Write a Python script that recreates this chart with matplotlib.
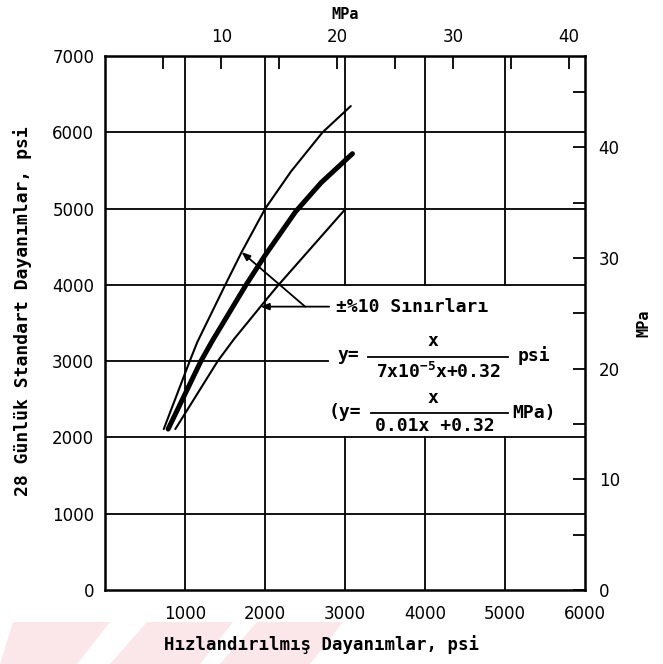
import numpy as np
import matplotlib
matplotlib.use("Agg")
import matplotlib.pyplot as plt
from matplotlib.patches import Polygon

plt.rcParams["mathtext.fontset"] = "custom"
plt.rcParams["mathtext.rm"] = "DejaVu Sans Mono:bold"
plt.rcParams["mathtext.default"] = "rm"

# accelerated vs. 28-day standard strength, psi
mean_x = [785, 1195, 1340, 1760, 2000, 2380, 2700, 3092]
mean_y = [2110, 3000, 3270, 4000, 4390, 4960, 5340, 5720]
upper_x = [730, 1055, 1150, 1500, 1705, 2000, 2325, 2718, 3071]
upper_y = [2110, 3000, 3250, 4000, 4430, 5000, 5490, 6000, 6344]
lower_x = [875, 1405, 1610, 2000, 2146, 3000]
lower_y = [2110, 3000, 3290, 3790, 3975, 4990]

x_ticks = [1000, 2000, 3000, 4000, 5000, 6000]
y_ticks = [0, 1000, 2000, 3000, 4000, 5000, 6000, 7000]
mpa_minor = [0, 5, 10, 15, 20, 25, 30, 35, 40, 45]
mpa_labels = [0, 10, 20, 30, 40]
PSI_TO_MPA = 0.006895

mono = "DejaVu Sans Mono"

fig = plt.figure(figsize=(6.63, 6.64), dpi=100)
ax = fig.add_axes([0.159, 0.1114, 0.723, 0.8042])
ax.set_xlim(0, 6000)
ax.set_ylim(0, 7000)

# grid, left open where the legend text sits
box_x0, box_y0, box_y1 = 2790, 2000, 4000
glw = 1.3
for gx in x_ticks[:-1]:
    if gx > box_x0:
        ax.plot([gx, gx], [0, box_y0], color="black", lw=glw, zorder=1)
        ax.plot([gx, gx], [box_y1, 7000], color="black", lw=glw, zorder=1)
    else:
        ax.plot([gx, gx], [0, 7000], color="black", lw=glw, zorder=1)
for gy in y_ticks[1:-1]:
    if box_y0 < gy < box_y1:
        ax.plot([0, box_x0], [gy, gy], color="black", lw=glw, zorder=1)
    else:
        ax.plot([0, 6000], [gy, gy], color="black", lw=glw, zorder=1)

# curves
ax.plot(upper_x, upper_y, color="black", lw=1.5, solid_capstyle="round", zorder=3)
ax.plot(lower_x, lower_y, color="black", lw=1.5, solid_capstyle="round", zorder=3)
ax.plot(mean_x, mean_y, color="black", lw=3.6, solid_capstyle="round", zorder=3)

# leader lines to the +/-10 % limits
lead_y = 3715
lower_hit = (np.interp(lead_y, lower_y, lower_x), lead_y)
upper_hit = (1705, np.interp(1705, upper_x, upper_y))
arrow = dict(arrowstyle="-|>,head_length=0.5,head_width=0.2", color="black",
             lw=1.3, shrinkA=0, shrinkB=0)
ax.annotate("", xy=lower_hit, xytext=(2800, lead_y), arrowprops=arrow, zorder=4)
ax.annotate("", xy=upper_hit, xytext=(2500, lead_y), arrowprops=arrow, zorder=4)

tfont = dict(family=mono, weight="bold", fontsize=13, color="black")
ax.text(2890, lead_y, "±%10 Sınırları", ha="left", va="center", **tfont)

# formula in psi
ax.text(2900, 3079, "y=", ha="left", va="center", **tfont)
ax.text(4100, 3150, "x", ha="center", va="bottom", **tfont)
ax.plot([3290, 5035], [3060, 3060], color="black", lw=1.3, zorder=4)
ax.text(4170, 2990, "7x10$^{-5}$x+0.32", ha="center", va="top", **tfont)
ax.text(5160, 3079, "psi", ha="left", va="center", **tfont)

# formula in MPa
ax.text(2800, 2330, "(y=", ha="left", va="center", **tfont)
ax.text(4100, 2400, "x", ha="center", va="bottom", **tfont)
ax.plot([3330, 5035], [2325, 2325], color="black", lw=1.3, zorder=4)
ax.text(4120, 2270, "0.01x +0.32", ha="center", va="top", **tfont)
ax.text(5090, 2325, "MPa)", ha="left", va="center", **tfont)

for s in ax.spines.values():
    s.set_linewidth(1.8)

ax.set_xticks(x_ticks)
ax.set_yticks(y_ticks)
ax.tick_params(length=0, labelsize=12, pad=8)
ax.tick_params(axis="x", pad=11)

ax.set_xlabel("Hızlandırılmış Dayanımlar, psi", family=mono, weight="bold", fontsize=12.5)
ax.xaxis.set_label_coords(0.45, -0.084)
ax.set_ylabel("28 Günlük Standart Dayanımlar, psi", family=mono, weight="bold", fontsize=13)
ax.yaxis.set_label_coords(-0.153, 0.522)

# MPa scales
top = ax.secondary_xaxis("top", functions=(lambda v: v * PSI_TO_MPA, lambda v: v / PSI_TO_MPA))
top.set_xticks(mpa_minor[1:-1])
top.set_xticklabels([str(v) if v in mpa_labels else "" for v in mpa_minor[1:-1]])
top.tick_params(direction="in", length=9, width=1.3, labelsize=12, pad=7)
top.set_xlabel("MPa", family=mono, weight="bold", fontsize=11, labelpad=7)

right = ax.secondary_yaxis("right", functions=(lambda v: v * PSI_TO_MPA, lambda v: v / PSI_TO_MPA))
right.set_yticks(mpa_minor)
right.set_yticklabels([str(v) if v in mpa_labels else "" for v in mpa_minor])
right.tick_params(direction="in", length=9, width=1.3, labelsize=12, pad=10)
right.set_ylabel("MPa", family=mono, weight="bold", fontsize=11, labelpad=12)

# faint diagonal watermark bands along the bottom edge
W, H = 663, 664
bands = [(13, 110, 0, 77), (147, 233, 110, 200), (257, 343, 220, 310)]
for t0, t1, b0, b1 in bands:
    pts = [(t0 / W, 1 - 622 / H), (t1 / W, 1 - 622 / H), (b1 / W, 0), (b0 / W, 0)]
    fig.patches.append(Polygon(pts, closed=True, transform=fig.transFigure,
                               facecolor="#fbe6ea", edgecolor="none", zorder=-1))

fig.savefig("out.png", dpi=100)
